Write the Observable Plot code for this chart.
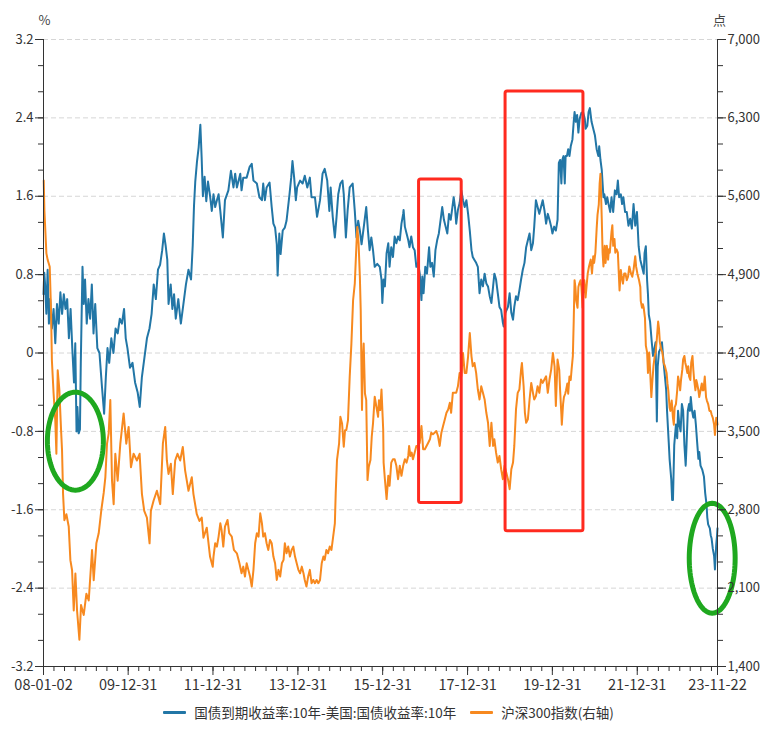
<!DOCTYPE html>
<html><head><meta charset="utf-8">
<script src="https://cdn.jsdelivr.net/npm/d3@7"></script>
<script src="https://cdn.jsdelivr.net/npm/@observablehq/plot@0.6"></script>
<style>
body{margin:0;background:#fff;font-family:"Noto Sans CJK SC","Noto Sans",sans-serif;}
#legend{display:flex;justify-content:center;align-items:center;font-size:13.5px;color:#333;height:24px;width:777px;}
.item{display:flex;align-items:center;margin:0 7px;white-space:nowrap;}
.sw{width:23px;height:3px;margin-right:8px;border-radius:1px;}
</style></head><body>
<div id="chart"></div>
<div id="legend"></div>
<script>
// ---- Data (decimal year, value) ----
const seriesNames = ["国债到期收益率:10年-美国:国债收益率:10年", "沪深300指数(右轴)"];
const seriesColors = ["#2276a6", "#f7891f"];
const unitLabels = ["%", "点"];

// Left axis (%): China 10Y minus US 10Y yield spread
const spread = [
[2008.003,0.60],[2008.02,0.82],[2008.04,0.70],[2008.07,0.40],[2008.10,0.85],[2008.13,0.30],[2008.16,0.55],[2008.20,0.25],[2008.24,0.45],[2008.28,0.10],
[2008.32,0.50],[2008.36,0.30],[2008.40,0.62],[2008.44,0.40],[2008.48,0.60],[2008.52,0.45],[2008.56,0.55],[2008.60,0.15],[2008.64,0.45],[2008.68,0.05],
[2008.72,-0.30],[2008.75,0.10],[2008.78,-0.80],[2008.80,-0.55],[2008.83,-0.82],[2008.86,-0.78],[2008.88,-0.10],[2008.92,0.88],[2008.95,0.50],[2008.98,0.75],
[2009.02,0.30],[2009.06,0.55],[2009.10,0.35],[2009.14,0.70],[2009.18,0.20],[2009.22,0.50],[2009.27,0.05],[2009.32,0.00],[2009.38,-0.35],[2009.43,-0.62],
[2009.47,-0.25],[2009.51,0.05],[2009.55,-0.10],[2009.60,0.15],[2009.65,0.00],[2009.70,0.25],[2009.75,0.20],[2009.80,0.35],[2009.85,0.30],[2009.90,0.45],
[2009.94,0.15],[2009.98,0.05],[2010.04,-0.15],[2010.10,-0.10],[2010.16,-0.30],[2010.22,-0.40],[2010.27,-0.55],[2010.32,-0.25],[2010.38,-0.05],[2010.44,0.15],
[2010.50,0.25],[2010.55,0.40],[2010.60,0.70],[2010.65,0.55],[2010.70,0.85],[2010.75,0.90],[2010.80,1.05],[2010.84,1.22],[2010.88,1.10],[2010.92,0.95],
[2010.95,0.50],[2011.00,0.70],[2011.04,0.45],[2011.08,0.60],[2011.12,0.35],[2011.18,0.55],[2011.24,0.30],[2011.30,0.50],[2011.36,0.70],[2011.42,0.85],
[2011.48,0.75],[2011.52,1.10],[2011.55,1.50],[2011.58,1.75],[2011.62,1.95],[2011.66,2.10],[2011.70,2.33],[2011.73,2.00],[2011.76,1.60],[2011.80,1.80],
[2011.84,1.55],[2011.88,1.75],[2011.93,1.60],[2011.97,1.45],[2012.01,1.62],[2012.05,1.49],[2012.09,1.56],[2012.13,1.62],[2012.17,1.45],[2012.23,1.18],
[2012.28,1.56],[2012.36,1.66],[2012.42,1.86],[2012.48,1.69],[2012.52,1.83],[2012.56,1.69],[2012.64,1.83],[2012.67,1.66],[2012.71,1.79],[2012.79,1.79],
[2012.86,1.90],[2012.91,1.93],[2012.95,1.76],[2013.03,1.73],[2013.09,1.59],[2013.15,1.56],[2013.18,1.73],[2013.22,1.56],[2013.26,1.69],[2013.33,1.74],
[2013.38,1.49],[2013.42,1.32],[2013.46,1.28],[2013.50,1.11],[2013.52,0.79],[2013.56,1.22],[2013.59,1.01],[2013.64,1.25],[2013.69,1.28],[2013.73,1.35],
[2013.80,1.62],[2013.84,1.79],[2013.87,1.96],[2013.91,1.79],[2013.95,1.56],[2013.98,1.69],[2014.05,1.76],[2014.11,1.73],[2014.16,1.81],[2014.22,1.69],
[2014.28,1.79],[2014.32,1.59],[2014.40,1.59],[2014.45,1.39],[2014.52,1.56],[2014.58,1.83],[2014.63,1.88],[2014.69,1.76],[2014.74,1.45],[2014.77,1.69],
[2014.82,1.39],[2014.87,1.18],[2014.91,1.39],[2014.95,1.62],[2015.00,1.73],[2015.05,1.76],[2015.08,1.62],[2015.13,1.18],[2015.17,1.45],[2015.22,1.69],
[2015.29,1.73],[2015.34,1.45],[2015.38,1.18],[2015.42,1.35],[2015.46,1.25],[2015.50,1.11],[2015.55,1.28],[2015.61,1.49],[2015.65,1.25],[2015.69,1.05],
[2015.73,1.18],[2015.77,1.05],[2015.81,0.88],[2015.87,0.91],[2015.93,0.88],[2015.97,0.75],[2015.99,0.51],[2016.02,0.75],[2016.05,0.68],[2016.09,1.02],
[2016.13,1.12],[2016.16,0.88],[2016.20,1.08],[2016.24,0.98],[2016.28,1.19],[2016.32,1.12],[2016.36,1.19],[2016.40,1.15],[2016.44,1.32],[2016.48,1.42],
[2016.49,1.46],[2016.52,1.29],[2016.56,1.22],[2016.60,1.15],[2016.63,1.08],[2016.67,1.19],[2016.71,1.08],[2016.75,1.05],[2016.79,0.88],[2016.83,0.92],
[2016.87,0.81],[2016.91,0.54],[2016.93,0.78],[2016.96,0.61],[2017.00,0.88],[2017.04,0.81],[2017.09,1.08],[2017.12,0.88],[2017.16,0.92],[2017.20,0.78],
[2017.24,1.05],[2017.28,1.15],[2017.32,1.22],[2017.38,1.42],[2017.40,1.49],[2017.44,1.36],[2017.48,1.29],[2017.52,1.22],[2017.56,1.42],[2017.60,1.36],
[2017.64,1.49],[2017.67,1.59],[2017.70,1.49],[2017.73,1.32],[2017.77,1.46],[2017.81,1.53],[2017.85,1.66],[2017.89,1.56],[2017.93,1.49],[2017.97,1.56],
[2018.01,1.42],[2018.05,1.25],[2018.09,1.05],[2018.12,0.98],[2018.16,0.95],[2018.20,0.92],[2018.24,0.88],[2018.28,0.61],[2018.32,0.75],[2018.36,0.68],
[2018.40,0.81],[2018.44,0.71],[2018.48,0.68],[2018.52,0.58],[2018.56,0.51],[2018.60,0.68],[2018.63,0.81],[2018.67,0.75],[2018.71,0.61],[2018.75,0.47],
[2018.79,0.44],[2018.83,0.31],[2018.85,0.27],[2018.89,0.41],[2018.95,0.47],[2018.99,0.61],[2019.03,0.41],[2019.07,0.34],[2019.10,0.47],[2019.14,0.58],
[2019.18,0.54],[2019.22,0.64],[2019.26,0.75],[2019.30,0.85],[2019.34,0.92],[2019.38,1.08],[2019.42,1.15],[2019.46,1.22],[2019.50,1.05],[2019.54,1.12],
[2019.57,1.29],[2019.61,1.56],[2019.65,1.49],[2019.69,1.42],[2019.73,1.49],[2019.77,1.56],[2019.81,1.46],[2019.85,1.32],[2019.89,1.42],[2019.93,1.36],
[2019.97,1.29],[2020.00,1.22],[2020.04,1.29],[2020.08,1.25],[2020.12,1.36],[2020.15,1.94],[2020.18,1.97],[2020.21,1.73],[2020.23,1.97],[2020.26,2.01],
[2020.29,1.73],[2020.31,2.01],[2020.34,2.01],[2020.37,2.08],[2020.40,2.01],[2020.43,2.11],[2020.47,2.18],[2020.50,2.36],[2020.52,2.46],[2020.55,2.36],
[2020.58,2.43],[2020.61,2.25],[2020.64,2.39],[2020.68,2.45],[2020.72,2.46],[2020.76,2.39],[2020.78,2.29],[2020.82,2.32],[2020.85,2.46],[2020.88,2.50],
[2020.92,2.36],[2020.96,2.29],[2021.00,2.22],[2021.04,2.08],[2021.08,2.01],[2021.10,2.11],[2021.13,1.97],[2021.16,1.87],[2021.18,1.73],[2021.20,1.59],
[2021.22,1.62],[2021.26,1.52],[2021.29,1.59],[2021.32,1.52],[2021.36,1.44],[2021.39,1.59],[2021.43,1.44],[2021.47,1.66],[2021.51,1.62],[2021.54,1.76],
[2021.57,1.59],[2021.61,1.62],[2021.64,1.52],[2021.67,1.59],[2021.71,1.44],[2021.75,1.44],[2021.79,1.30],[2021.83,1.37],[2021.87,1.27],[2021.91,1.52],
[2021.95,1.30],[2021.99,1.44],[2022.01,1.27],[2022.03,1.09],[2022.07,0.95],[2022.11,0.88],[2022.15,0.81],[2022.17,1.02],[2022.20,1.09],[2022.23,0.74],
[2022.25,0.60],[2022.27,0.39],[2022.30,0.32],[2022.34,0.11],[2022.37,-0.03],[2022.40,0.04],[2022.43,0.11],[2022.46,-0.70],[2022.48,-0.14],[2022.51,0.01],
[2022.54,0.04],[2022.58,0.11],[2022.62,-0.10],[2022.65,-0.24],[2022.68,-0.38],[2022.70,-0.59],[2022.74,-0.91],[2022.76,-1.08],[2022.80,-1.29],[2022.82,-1.50],
[2022.84,-1.50],[2022.87,-0.94],[2022.91,-0.73],[2022.94,-0.87],[2022.96,-0.59],[2022.99,-0.73],[2023.02,-0.80],[2023.05,-0.52],[2023.08,-0.59],[2023.11,-0.94],
[2023.14,-1.15],[2023.16,-0.94],[2023.19,-0.59],[2023.22,-0.52],[2023.24,-0.59],[2023.26,-0.45],[2023.29,-0.59],[2023.32,-0.66],[2023.35,-0.59],[2023.38,-0.73],
[2023.41,-0.91],[2023.44,-1.08],[2023.46,-1.01],[2023.49,-1.15],[2023.53,-1.19],[2023.57,-1.26],[2023.60,-1.43],[2023.63,-1.54],[2023.65,-1.68],[2023.67,-1.75],
[2023.71,-1.79],[2023.73,-1.86],[2023.75,-1.89],[2023.78,-2.00],[2023.81,-2.07],[2023.83,-2.21],[2023.86,-1.96],[2023.88,-1.86],[2023.89,-1.79]
];

// Right axis (points): CSI 300 index
const csi300 = [
[2008.008,5740],[2008.024,5470],[2008.071,5090],[2008.102,5030],[2008.149,4970],[2008.18,4580],[2008.20,4135],[2008.24,3840],[2008.28,3600],[2008.306,3300],
[2008.337,4046],[2008.376,3870],[2008.416,3510],[2008.439,3330],[2008.463,2940],[2008.494,2706],[2008.541,2760],[2008.596,2650],[2008.635,2350],[2008.675,2260],
[2008.714,1900],[2008.753,2230],[2008.792,1900],[2008.847,1640],[2008.886,1950],[2008.949,1860],[2009.012,2050],[2009.067,1990],[2009.145,2440],[2009.184,2170],
[2009.247,2500],[2009.302,2590],[2009.365,2800],[2009.42,2950],[2009.459,3090],[2009.498,3390],[2009.537,3480],[2009.576,3780],[2009.616,3060],[2009.655,2850],
[2009.694,3300],[2009.749,3060],[2009.812,3390],[2009.89,3660],[2009.953,3390],[2010.008,3540],[2010.063,3180],[2010.125,3300],[2010.204,3240],[2010.267,3300],
[2010.322,2940],[2010.376,2790],[2010.439,2730],[2010.502,2500],[2010.533,2790],[2010.596,2880],[2010.675,2970],[2010.753,2850],[2010.816,3390],[2010.871,3540],
[2010.91,3240],[2010.949,3120],[2011.004,3210],[2011.05,2940],[2011.106,3240],[2011.161,3300],[2011.224,3240],[2011.286,3360],[2011.341,3150],[2011.42,2970],
[2011.498,3090],[2011.537,2940],[2011.616,2760],[2011.678,2700],[2011.733,2730],[2011.773,2550],[2011.851,2640],[2011.929,2380],[2011.992,2290],[2012.01,2382],
[2012.05,2501],[2012.09,2471],[2012.13,2560],[2012.17,2679],[2012.20,2620],[2012.24,2471],[2012.28,2649],[2012.34,2709],[2012.38,2590],[2012.44,2560],
[2012.49,2441],[2012.56,2411],[2012.62,2322],[2012.67,2233],[2012.71,2292],[2012.75,2203],[2012.79,2322],[2012.83,2263],[2012.87,2203],[2012.91,2114],
[2012.95,2263],[2012.99,2501],[2013.03,2590],[2013.07,2560],[2013.11,2768],[2013.15,2679],[2013.18,2560],[2013.22,2590],[2013.26,2501],[2013.30,2441],
[2013.34,2530],[2013.38,2501],[2013.42,2382],[2013.46,2322],[2013.50,2173],[2013.54,2263],[2013.58,2203],[2013.62,2322],[2013.66,2352],[2013.69,2501],
[2013.73,2411],[2013.77,2471],[2013.81,2382],[2013.85,2441],[2013.89,2471],[2013.93,2382],[2013.97,2322],[2014.01,2263],[2014.05,2233],[2014.09,2292],
[2014.13,2233],[2014.16,2173],[2014.20,2114],[2014.24,2203],[2014.28,2263],[2014.32,2144],[2014.36,2173],[2014.40,2144],[2014.44,2173],[2014.48,2144],
[2014.52,2173],[2014.56,2322],[2014.60,2382],[2014.63,2352],[2014.67,2441],[2014.71,2411],[2014.75,2471],[2014.79,2441],[2014.83,2560],[2014.87,2679],
[2014.89,2946],[2014.92,3244],[2014.97,3392],[2015.00,3630],[2015.04,3571],[2015.08,3363],[2015.11,3511],[2015.14,3511],[2015.18,3601],[2015.22,3987],
[2015.26,4284],[2015.30,4671],[2015.34,4819],[2015.38,5176],[2015.40,5325],[2015.43,5176],[2015.46,4879],[2015.48,4582],[2015.51,3690],[2015.53,4136],
[2015.55,4284],[2015.58,3838],[2015.61,3779],[2015.64,3065],[2015.67,3184],[2015.71,3244],[2015.74,3452],[2015.77,3571],[2015.81,3809],[2015.85,3720],
[2015.89,3630],[2015.91,3779],[2015.94,3690],[2015.97,3874],[2016.01,3518],[2016.02,3221],[2016.05,3073],[2016.09,2895],[2016.13,3103],[2016.16,3014],
[2016.20,3221],[2016.24,3251],[2016.28,3251],[2016.32,3192],[2016.36,3073],[2016.40,3192],[2016.44,3103],[2016.48,3192],[2016.52,3251],[2016.56,3221],
[2016.60,3281],[2016.62,3370],[2016.65,3281],[2016.68,3310],[2016.71,3251],[2016.75,3310],[2016.79,3370],[2016.83,3370],[2016.87,3399],[2016.91,3548],
[2016.95,3340],[2016.99,3340],[2017.03,3370],[2017.07,3399],[2017.11,3429],[2017.14,3488],[2017.18,3474],[2017.22,3488],[2017.26,3503],[2017.30,3459],
[2017.34,3370],[2017.38,3488],[2017.42,3548],[2017.46,3607],[2017.50,3666],[2017.54,3696],[2017.58,3755],[2017.61,3666],[2017.65,3844],[2017.69,3844],
[2017.73,3844],[2017.77,3903],[2017.81,4022],[2017.85,3992],[2017.89,4200],[2017.93,4022],[2017.97,4022],[2018.01,4170],[2018.05,4378],[2018.09,4170],
[2018.12,4081],[2018.16,4111],[2018.20,4022],[2018.24,3874],[2018.28,3785],[2018.32,3903],[2018.36,3844],[2018.40,3785],[2018.44,3666],[2018.48,3577],
[2018.52,3370],[2018.56,3577],[2018.60,3370],[2018.63,3429],[2018.67,3310],[2018.71,3221],[2018.75,3281],[2018.79,3162],[2018.83,3073],[2018.87,3192],
[2018.91,3132],[2018.95,3073],[2018.99,2984],[2019.03,3162],[2019.07,3221],[2019.10,3370],[2019.14,3696],[2019.18,3844],[2019.22,3874],[2019.26,4052],
[2019.28,4111],[2019.32,3903],[2019.35,3666],[2019.38,3577],[2019.42,3607],[2019.46,3785],[2019.50,3933],[2019.54,3844],[2019.57,3785],[2019.61,3815],
[2019.65,3903],[2019.69,3844],[2019.73,3963],[2019.77,3933],[2019.81,3963],[2019.85,3992],[2019.89,3844],[2019.93,3963],[2019.97,4052],[2020.01,4200],
[2020.05,4081],[2020.08,3726],[2020.12,4141],[2020.16,4050],[2020.18,3867],[2020.21,3652],[2020.22,3560],[2020.25,3744],[2020.27,3806],[2020.30,3836],
[2020.32,3867],[2020.35,3928],[2020.37,3836],[2020.40,3990],[2020.43,3959],[2020.45,4051],[2020.48,4174],[2020.50,4481],[2020.52,4850],[2020.54,4789],
[2020.56,4666],[2020.59,4604],[2020.61,4789],[2020.63,4819],[2020.66,4850],[2020.68,4789],[2020.71,4604],[2020.72,4727],[2020.75,4850],[2020.78,4696],
[2020.80,4789],[2020.83,4911],[2020.86,4973],[2020.90,5034],[2020.93,4911],[2020.96,5065],[2020.98,5004],[2021.01,5096],[2021.04,5311],[2021.06,5434],
[2021.09,5526],[2021.11,5710],[2021.13,5802],[2021.16,5403],[2021.18,5096],[2021.20,4973],[2021.23,5157],[2021.25,5004],[2021.28,5157],[2021.31,5034],
[2021.33,5126],[2021.35,5096],[2021.39,5280],[2021.41,5342],[2021.43,5157],[2021.46,5219],[2021.48,5096],[2021.51,5126],[2021.54,5096],[2021.58,4758],
[2021.61,4942],[2021.63,4881],[2021.66,4819],[2021.69,4911],[2021.72,4911],[2021.75,4850],[2021.78,4881],[2021.81,4973],[2021.85,4911],[2021.88,4881],
[2021.91,4942],[2021.95,5065],[2021.97,4973],[2022.00,4911],[2022.04,4850],[2022.07,4789],[2022.08,4666],[2022.11,4604],[2022.13,4635],[2022.15,4604],
[2022.18,4512],[2022.20,4266],[2022.23,4205],[2022.25,4021],[2022.28,4205],[2022.30,4051],[2022.33,3806],[2022.35,3928],[2022.38,4082],[2022.41,4174],
[2022.43,4205],[2022.46,4328],[2022.49,4481],[2022.51,4420],[2022.53,4297],[2022.56,4236],[2022.59,4205],[2022.62,4113],[2022.65,4082],[2022.69,4021],
[2022.71,3928],[2022.73,3867],[2022.76,3713],[2022.78,3683],[2022.81,3775],[2022.84,3621],[2022.86,3560],[2022.88,3713],[2022.91,3744],[2022.94,3867],
[2022.96,3990],[2022.99,3928],[2023.01,3867],[2023.03,3959],[2023.06,4051],[2023.08,4143],[2023.11,4174],[2023.13,4113],[2023.15,4082],[2023.18,4021],
[2023.20,4082],[2023.22,3990],[2023.25,3959],[2023.27,4113],[2023.30,4174],[2023.32,4051],[2023.34,3959],[2023.37,3867],[2023.39,3959],[2023.41,3928],
[2023.44,3867],[2023.46,3806],[2023.49,3867],[2023.52,3928],[2023.54,3867],[2023.56,3867],[2023.59,3990],[2023.62,3806],[2023.64,3775],[2023.67,3744],
[2023.70,3683],[2023.73,3683],[2023.75,3652],[2023.78,3621],[2023.81,3560],[2023.83,3468],[2023.86,3621],[2023.88,3590],[2023.89,3560]
];

// Axis ticks
const leftTicks = [-3.2, -2.4, -1.6, -0.8, 0, 0.8, 1.6, 2.4, 3.2];
const rightTicks = [1400, 2100, 2800, 3500, 4200, 4900, 5600, 6300, 7000];
const xTickDates = ["2008-01-02", "2009-12-31", "2011-12-31", "2013-12-31", "2015-12-31", "2017-12-31", "2019-12-31", "2021-12-31", "2023-11-22"];
const xTickLabels = ["08-01-02", "09-12-31", "11-12-31", "13-12-31", "15-12-31", "17-12-31", "19-12-31", "21-12-31", "23-11-22"];

// Annotations (in data units: decimal years, left-axis %)
const redBoxes = [
  {t1: 2016.854, t2: 2017.859, y1: -1.53, y2: 1.77},
  {t1: 2018.894, t2: 2020.729, y1: -1.82, y2: 2.67}
];
const greenEllipses = [
  {cx: 2008.753, cy: -0.90, rx: 0.659, ry: 0.50},
  {cx: 2023.765, cy: -2.095, rx: 0.541, ry: 0.561}
];

// ---- Helpers ----
const toDate = t => { const y = Math.floor(t); const a = Date.UTC(y, 0, 1), b = Date.UTC(y + 1, 0, 1); return new Date(a + (t - y) * (b - a)); };
const rightToLeft = v => (v - 4200) / 875;
const leftToRight = v => v * 875 + 4200;

const spreadData = spread.map(([t, v]) => ({date: toDate(t), v}));
const csiData = csi300.map(([t, v]) => ({date: toDate(t), v: rightToLeft(v)}));
const xDomain = [new Date(xTickDates[0]), new Date(xTickDates[xTickDates.length - 1])];
const xMajor = xTickDates.map(s => new Date(s));
const labelOf = new Map(xMajor.map((d, i) => [+d, xTickLabels[i]]));
const xMinor = d3.utcMonth.every(3).range(new Date("2008-01-03"), new Date("2023-11-20"));
const yMinor = d3.range(0, 25).map(i => -3.2 + i * 0.8 / 3);
const ellipseLines = greenEllipses.map(e => d3.range(0, 97).map(i => {
  const a = i / 96 * 2 * Math.PI;
  return {date: toDate(e.cx + e.rx * Math.cos(a)), v: e.cy + e.ry * Math.sin(a)};
}));

const axisColor = "#333";
const chart = Plot.plot({
  width: 777, height: 700,
  marginTop: 39, marginBottom: 34, marginLeft: 43, marginRight: 60,
  x: {type: "utc", domain: xDomain},
  y: {domain: [-3.2, 3.2]},
  style: {fontFamily: '"Noto Sans CJK SC","Noto Sans",sans-serif', fontSize: "13px", color: axisColor, background: "#fff", overflow: "visible"},
  marks: [
    Plot.ruleY(leftTicks.filter(v => v > -3.2), {stroke: "#d6d6d6", strokeDasharray: "5,3", strokeWidth: 1}),
    Plot.line(spreadData, {x: "date", y: "v", stroke: seriesColors[0], strokeWidth: 2}),
    Plot.line(csiData, {x: "date", y: "v", stroke: seriesColors[1], strokeWidth: 2}),
    Plot.rect(redBoxes, {x1: d => toDate(d.t1), x2: d => toDate(d.t2), y1: "y1", y2: "y2", fill: "none", stroke: "#ff2a1f", strokeWidth: 3, rx: 2}),
    ...ellipseLines.map(pts => Plot.line(pts, {x: "date", y: "v", stroke: "#1fa81f", strokeWidth: 5})),
    Plot.ruleX(xDomain, {stroke: axisColor, strokeWidth: 1}),
    Plot.ruleY([-3.2], {stroke: axisColor, strokeWidth: 1}),
    Plot.axisY(leftTicks, {anchor: "left", tickSize: 8, tickPadding: 2, tickFormat: v => v === 0 ? "0" : v.toFixed(1), label: null}),
    Plot.axisY(yMinor, {anchor: "left", tickSize: 5, tickFormat: () => "", label: null}),
    Plot.axisY(rightTicks.map(rightToLeft), {anchor: "right", tickSize: 8, tickPadding: 2,
      tickFormat: v => d3.format(",")(Math.round(leftToRight(v))), label: null}),
    Plot.axisY(yMinor, {anchor: "right", tickSize: 5, tickFormat: () => "", label: null}),
    Plot.axisX(xMinor, {tickSize: 5, tickFormat: () => "", label: null}),
    Plot.axisX(xMajor, {tickSize: 9, tickPadding: 4, fontSize: 14.5, tickFormat: d => labelOf.get(+d), label: null}),
    Plot.text([unitLabels[0]], {frameAnchor: "top-left", dy: -24, dx: 1, textAnchor: "middle", fontSize: 13, fill: "#444"}),
    Plot.text([unitLabels[1]], {frameAnchor: "top-right", dy: -24, dx: 2, textAnchor: "middle", fontSize: 13, fill: "#444"})
  ]
});
document.getElementById("chart").appendChild(chart);

const legend = document.getElementById("legend");
seriesNames.forEach((name, i) => {
  const item = document.createElement("div");
  item.className = "item";
  const sw = document.createElement("span");
  sw.className = "sw";
  sw.style.background = seriesColors[i];
  const tx = document.createElement("span");
  tx.textContent = name;
  item.appendChild(sw); item.appendChild(tx);
  legend.appendChild(item);
});
</script></body></html>
